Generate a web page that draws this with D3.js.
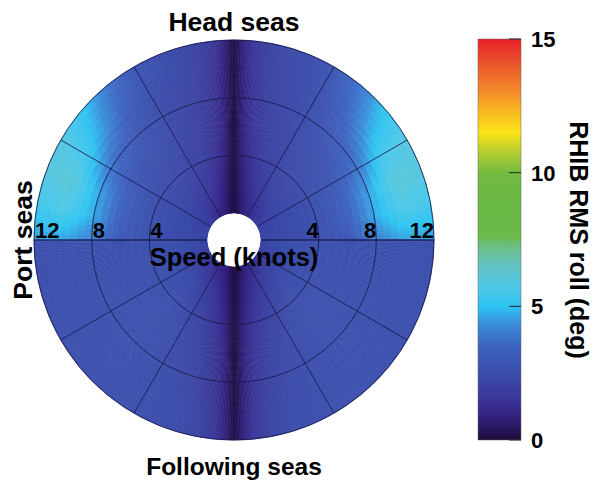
<!DOCTYPE html>
<html><head><meta charset="utf-8">
<script src="https://cdn.jsdelivr.net/npm/d3@7"></script>
<style>
body{margin:0;background:#fff}
text{font-family:"Liberation Sans",Arial,Helvetica,sans-serif;fill:#000}
</style>
</head><body>
<svg id="chart" width="594" height="480"></svg>
<script>
// ---------------- data ----------------
const speeds = [0, 2, 4, 6, 8, 10, 12];               // knots
// headings measured from head seas (0) to beam (90)
const bowHeadings = [0, 1, 2, 4, 6, 10, 15, 20, 30, 40, 50, 60, 70, 80, 90];
const bowRoll = [
  [0.20,0.20,0.20,0.20,0.20,0.20,0.20],
  [0.20,0.20,0.20,0.20,0.25,0.30,0.35],
  [0.20,0.20,0.30,0.40,0.50,0.60,0.70],
  [0.20,0.40,0.60,0.75,0.90,1.05,1.20],
  [0.30,0.60,0.85,1.10,1.25,1.45,1.60],
  [0.50,0.90,1.25,1.55,1.70,1.90,2.00],
  [0.70,1.20,1.60,1.90,2.05,2.20,2.30],
  [0.85,1.50,1.90,2.10,2.20,2.30,2.40],
  [1.10,1.90,2.20,2.30,2.45,2.60,3.00],
  [1.50,2.00,2.30,2.50,2.80,3.40,4.00],
  [1.80,2.20,2.40,2.60,3.30,4.50,5.20],
  [2.00,2.30,2.50,2.90,3.90,5.50,5.90],
  [2.10,2.40,2.60,3.20,4.60,6.10,5.90],
  [2.20,2.40,2.60,3.20,4.70,5.70,5.40],
  [2.20,2.40,2.60,3.00,4.10,4.60,4.50]
];
// offsets measured from following seas (0) to beam (90)
const sternOffsets = [0, 1, 2, 4, 6, 10, 15, 20, 30, 45, 60, 75, 90];
const sternRoll = [
  [0.20,0.20,0.20,0.20,0.20,0.20,0.20],
  [0.20,0.20,0.20,0.20,0.25,0.30,0.35],
  [0.20,0.20,0.30,0.40,0.50,0.60,0.70],
  [0.20,0.40,0.60,0.75,0.90,1.05,1.20],
  [0.30,0.60,0.85,1.10,1.25,1.45,1.60],
  [0.50,0.90,1.25,1.55,1.70,1.90,2.05],
  [0.70,1.20,1.60,1.90,2.10,2.25,2.35],
  [0.85,1.50,1.90,2.15,2.30,2.40,2.50],
  [1.10,1.90,2.25,2.40,2.50,2.55,2.60],
  [1.50,2.25,2.50,2.60,2.60,2.60,2.60],
  [1.90,2.45,2.60,2.60,2.60,2.60,2.60],
  [2.10,2.55,2.60,2.60,2.60,2.60,2.55],
  [2.20,2.60,2.60,2.60,2.60,2.60,2.55]
];
const speedTicks = [4, 8, 12];
const spokeAngles = [0, 30, 60, 90, 120, 150, 180, 210, 240, 270, 300, 330];
const colorTicks = [0, 5, 10, 15];
const colorStops = [0, 0.5, 1.0, 1.5, 2.5, 3.5, 4.3, 5.0, 5.7, 6.5, 7.2, 7.6, 9, 10, 10.8, 11.5, 12.3, 13, 14, 15];
const colorHex = ["#1c0c38","#2b1865","#362585","#3a3597","#3b4dab","#3c62c0","#3a8ad8","#2ec3f2","#4ec8e8","#64c4c4","#6cbf8a","#6ab94a","#6ab844","#74bb40","#b8d030","#fce418","#f9b820","#f38c2a","#ec5a2c","#e61f2a"];

// ---------------- layout ----------------
const svg = d3.select("#chart");
const cx = 234, cy = 240;
const rScale = d3.scaleLinear().domain([0, 12]).range([27, 200]);
const aScale = d3.scaleLinear().domain([0, 360]).range([0, 2 * Math.PI]);
const color = d3.scaleLinear().domain(colorStops).range(colorHex).interpolate(d3.interpolateRgb).clamp(true);

function interp(rows, keys, k, s) {
  let i = Math.min(Math.max(d3.bisectRight(keys, k) - 1, 0), keys.length - 2);
  let j = Math.min(Math.max(d3.bisectRight(speeds, s) - 1, 0), speeds.length - 2);
  const tk = (k - keys[i]) / (keys[i + 1] - keys[i]);
  const ts = (s - speeds[j]) / (speeds[j + 1] - speeds[j]);
  const a = rows[i][j] * (1 - ts) + rows[i][j + 1] * ts;
  const b = rows[i + 1][j] * (1 - ts) + rows[i + 1][j + 1] * ts;
  return a * (1 - tk) + b * tk;
}
function roll(h, s) {
  if (h > 180) h = 360 - h;
  if (h <= 90) return interp(bowRoll, bowHeadings, h, s);
  return interp(sternRoll, sternOffsets, 180 - h, s);
}

const g = svg.append("g").attr("transform", `translate(${cx},${cy})`);
const arc = d3.arc();
const cells = [];
const dA = 0.5, dS = 0.5;
for (let a = 0; a < 360; a += dA) {
  for (let s = 0; s < 12; s += dS) {
    cells.push({a0: a, a1: a + dA, s0: s, s1: s + dS, v: roll(a + dA / 2, s + dS / 2)});
  }
}
g.append("g").selectAll("path").data(cells).join("path")
  .attr("d", d => arc({innerRadius: rScale(d.s0), outerRadius: rScale(d.s1),
                       startAngle: aScale(d.a0), endAngle: aScale(d.a1)}))
  .attr("fill", d => color(d.v))
  .attr("stroke", d => color(d.v))
  .attr("stroke-width", 0.6);

// grid
const grid = g.append("g").attr("fill", "none").attr("stroke", "#1b1a4c").attr("stroke-opacity", 0.85);
grid.selectAll("circle").data(speedTicks).join("circle")
  .attr("r", d => rScale(d)).attr("stroke-width", 1);
grid.selectAll("line").data(spokeAngles).join("line")
  .attr("x1", d => rScale(0) * Math.sin(aScale(d)))
  .attr("y1", d => -rScale(0) * Math.cos(aScale(d)))
  .attr("x2", d => rScale(12) * Math.sin(aScale(d)))
  .attr("y2", d => -rScale(12) * Math.cos(aScale(d)))
  .attr("stroke-width", d => (d === 90 || d === 270) ? 1.3 : 1);

// speed tick labels
const lbl = g.append("g").attr("font-size", 22).attr("font-weight", "bold");
lbl.selectAll("text.r").data(speedTicks).join("text").attr("class", "r")
  .attr("x", d => rScale(d)).attr("y", -2).attr("text-anchor", "end").text(d => d);
lbl.selectAll("text.l").data(speedTicks).join("text").attr("class", "l")
  .attr("x", d => -rScale(d) + 1).attr("y", -2).attr("text-anchor", "start").text(d => d);

g.append("text").attr("x", 0).attr("y", 26).attr("text-anchor", "middle")
  .attr("font-size", 25.5).attr("font-weight", "bold").text("Speed (knots)");

// direction labels
svg.append("text").attr("x", cx).attr("y", 31).attr("text-anchor", "middle")
  .attr("font-size", 26.5).attr("font-weight", "bold").text("Head seas");
svg.append("text").attr("x", cx).attr("y", 475).attr("text-anchor", "middle")
  .attr("font-size", 24.5).attr("font-weight", "bold").text("Following seas");
svg.append("text").attr("transform", `translate(32,${cy}) rotate(-90)`).attr("text-anchor", "middle")
  .attr("font-size", 26.5).attr("font-weight", "bold").text("Port seas");

// colorbar
const cbX = 478, cbW = 43;
const cbY = d3.scaleLinear().domain([0, 15]).range([440, 39]);
const defs = svg.append("defs");
const grad = defs.append("linearGradient").attr("id", "cbgrad")
  .attr("x1", 0).attr("x2", 0).attr("y1", 1).attr("y2", 0);
grad.selectAll("stop").data(colorStops).join("stop")
  .attr("offset", d => d / 15).attr("stop-color", d => color(d));
svg.append("rect").attr("x", cbX).attr("y", cbY(15)).attr("width", cbW).attr("height", cbY(0) - cbY(15))
  .attr("fill", "url(#cbgrad)").attr("stroke", "#666").attr("stroke-width", 0.5);
svg.append("g").selectAll("line").data(colorTicks).join("line")
  .attr("x1", cbX + cbW - 12).attr("x2", cbX + cbW).attr("y1", d => cbY(d)).attr("y2", d => cbY(d))
  .attr("stroke", "#222").attr("stroke-width", 1);
svg.append("g").selectAll("text").data(colorTicks).join("text")
  .attr("x", 531).attr("y", d => cbY(d)).attr("dy", "0.36em")
  .attr("font-size", 22).attr("font-weight", "bold").text(d => d);
svg.append("text").attr("transform", `translate(570,${cy}) rotate(90)`).attr("text-anchor", "middle")
  .attr("font-size", 25).attr("font-weight", "bold").text("RHIB RMS roll (deg)");
</script>
</body></html>
